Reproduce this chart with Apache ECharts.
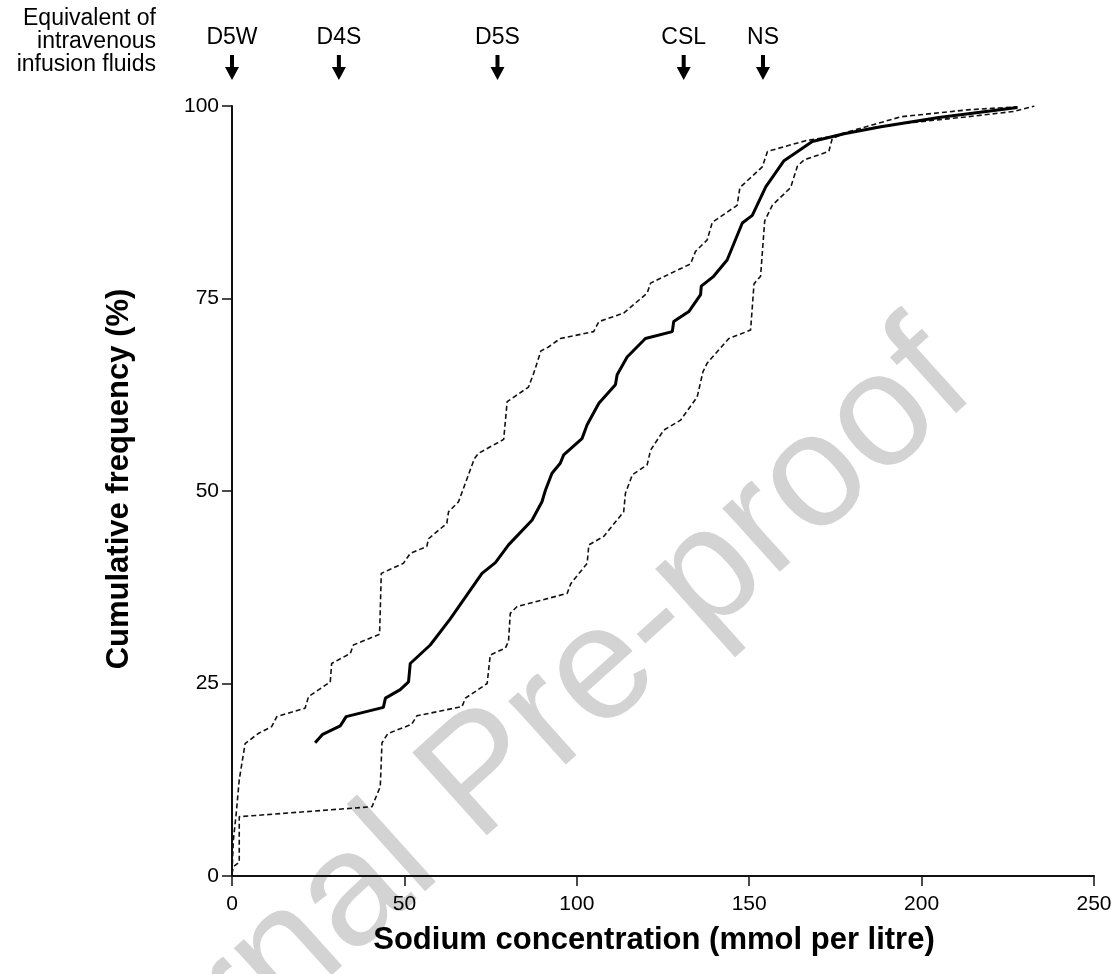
<!DOCTYPE html>
<html lang="en">
<head>
    <meta charset="utf-8">
    <title>Sodium concentration</title>
    <script src="https://cdn.jsdelivr.net/npm/echarts/dist/echarts.min.js"></script>
    <style>
        body { margin: 0; background: #fff; }
        #chart { width: 1116px; height: 974px; }
    </style>
</head>
<body>
    <div id="chart"></div>

    <script>
        // cumulative curves, [sodium mmol/L, cumulative %]
        const medianCurve = [
            [24.1, 17.3], [26.3, 18.4], [31.4, 19.5], [33.1, 20.7], [43.9, 21.9], [44.5, 23.1],
            [48.8, 24.2], [51.2, 25.2], [51.7, 27.6], [57.5, 30.0], [63.3, 33.4], [72.5, 39.3],
            [76.4, 40.7], [80.2, 43.0], [87.0, 46.2], [89.9, 48.6], [90.9, 50.1], [92.8, 52.3],
            [95.2, 53.6], [96.2, 54.7], [101.5, 56.8], [103.0, 58.6], [106.4, 61.4], [111.2, 63.8],
            [111.7, 65.1], [114.6, 67.4], [119.9, 69.8], [127.7, 70.7], [128.1, 72.0], [132.5, 73.3],
            [135.9, 75.5], [136.1, 76.6], [139.5, 77.8], [143.6, 80.0], [148.0, 84.8], [150.9, 85.8],
            [154.8, 89.5], [160.1, 92.9], [168.3, 95.4], [177.5, 96.4], [188.2, 97.3], [205.0, 98.5],
            [227.8, 99.8]
        ];

        const upperCurve = [
            [0, 0.5], [0.4, 4.7], [1.2, 8.0], [2.1, 12.5], [3.8, 17.2], [7.6, 18.5], [11.5, 19.4],
            [13.0, 20.7], [21.2, 21.8], [22.2, 23.3], [28.5, 25.2], [28.9, 27.6], [34.3, 28.9],
            [35.2, 30.0], [42.8, 31.4], [43.3, 39.3], [49.7, 40.6], [51.7, 41.9], [56.5, 42.8],
            [57.0, 43.8], [62.3, 45.8], [62.8, 47.3], [65.7, 48.6], [70.3, 54.2], [71.5, 54.9],
            [78.8, 56.7], [79.8, 61.6], [86.0, 63.5], [87.5, 65.3], [89.6, 68.2], [91.8, 68.7],
            [95.2, 69.8], [104.9, 70.7], [106.4, 72.0], [113.6, 73.1], [120.4, 75.7], [121.4, 77.0],
            [133.0, 79.5], [134.4, 81.1], [137.8, 82.6], [139.3, 84.9], [146.5, 87.1], [147.3, 89.4],
            [153.8, 92.1], [155.3, 94.1], [166.4, 95.5], [174.6, 96.1], [177.5, 96.5], [186.2, 97.6],
            [194.0, 98.6], [213.3, 99.5], [227.8, 99.9]
        ];

        const lowerCurve = [
            [0, 0.3], [0.4, 1.2], [2.1, 1.8], [2.1, 7.7], [40.6, 9.0], [43.0, 11.6], [43.5, 17.3],
            [45.2, 18.5], [52.1, 19.7], [53.6, 20.8], [66.7, 22.0], [67.7, 23.1], [74.0, 25.0],
            [74.9, 28.7], [79.3, 29.6], [80.2, 30.5], [80.7, 34.1], [82.7, 35.0], [97.2, 36.7],
            [98.3, 38.0], [103.0, 40.6], [103.5, 43.0], [107.8, 44.1], [113.6, 47.3], [114.1, 49.7],
            [116.1, 52.1], [120.4, 53.4], [121.4, 55.3], [125.2, 57.9], [130.1, 59.2], [134.9, 62.2],
            [136.6, 65.5], [137.8, 66.6], [144.1, 69.8], [150.4, 70.9], [151.4, 76.9], [153.3, 77.9],
            [154.5, 85.1], [156.7, 87.1], [162.0, 89.4], [164.0, 92.2], [165.9, 93.0], [173.1, 94.1],
            [174.1, 95.8], [177.5, 96.4], [186.2, 97.2], [194.0, 97.7], [213.3, 98.6], [226.9, 99.3],
            [232.7, 100.0]
        ];

        // sodium content of the reference infusion fluids
        const fluidNames = ['D5W', 'D4S', 'D5S', 'CSL', 'NS'];
        const fluidSodium = [0, 31, 77, 131, 154];

        const xTicks = { min: 0, max: 250, interval: 50 };
        const yTicks = { min: 0, max: 100, interval: 25 };

        const font = "'Liberation Sans', Arial, sans-serif";
        const arrowPath = 'path://M5,0 L9,0 L9,12 L14,12 L7,25 L0,12 L5,12 Z';

        const chart = echarts.init(document.getElementById('chart'));

        const option = {
            backgroundColor: '#fff',
            animation: false,
            textStyle: { fontFamily: font },
            graphic: [
                {
                    type: 'text',
                    z: -10,
                    silent: true,
                    x: 484,
                    y: 778,
                    rotation: 42 * Math.PI / 180,
                    style: {
                        text: 'Journal Pre-proof',
                        font: '162px ' + font,
                        fill: '#d3d3d3',
                        textAlign: 'center',
                        textVerticalAlign: 'middle'
                    }
                },
                {
                    type: 'text',
                    silent: true,
                    x: 156,
                    y: 7,
                    style: {
                        text: 'Equivalent of\nintravenous\ninfusion fluids',
                        font: '23px ' + font,
                        fill: '#000',
                        textAlign: 'right',
                        lineHeight: 23
                    }
                }
            ],
            grid: [
                { left: 232, right: 22, top: 106, bottom: 98 },
                { left: 232, right: 22, top: 55, height: 25 }
            ],
            xAxis: [
                {
                    type: 'value',
                    gridIndex: 0,
                    min: xTicks.min,
                    max: xTicks.max,
                    interval: xTicks.interval,
                    name: 'Sodium concentration (mmol per litre)',
                    nameLocation: 'middle',
                    nameGap: 49,
                    nameTextStyle: { fontSize: 31, fontWeight: 'bold', color: '#000', fontFamily: font, padding: [0, 18, 0, 0] },
                    axisLine: { show: true, onZero: false, lineStyle: { color: '#111', width: 2 } },
                    axisTick: { show: true, length: 10, lineStyle: { color: '#111', width: 1.5 } },
                    axisLabel: { margin: 18, fontSize: 21, color: '#000', fontFamily: font },
                    splitLine: { show: false }
                },
                {
                    type: 'value',
                    gridIndex: 1,
                    min: xTicks.min,
                    max: xTicks.max,
                    show: false
                }
            ],
            yAxis: [
                {
                    type: 'value',
                    gridIndex: 0,
                    min: yTicks.min,
                    max: yTicks.max,
                    interval: yTicks.interval,
                    name: 'Cumulative frequency (%)',
                    nameLocation: 'middle',
                    nameGap: 97,
                    nameRotate: 90,
                    nameTextStyle: { fontSize: 31, fontWeight: 'bold', color: '#000', fontFamily: font, padding: [0, 0, 0, 24] },
                    axisLine: { show: true, onZero: false, lineStyle: { color: '#111', width: 2 } },
                    axisTick: { show: true, length: 10, lineStyle: { color: '#111', width: 1.5 } },
                    axisLabel: { margin: 13, fontSize: 21, color: '#000', fontFamily: font },
                    splitLine: { show: false }
                },
                {
                    type: 'value',
                    gridIndex: 1,
                    min: 0,
                    max: 1,
                    show: false
                }
            ],
            series: [
                {
                    type: 'line',
                    xAxisIndex: 0,
                    yAxisIndex: 0,
                    data: upperCurve,
                    symbol: 'none',
                    silent: true,
                    lineStyle: { color: '#111', width: 1.6, type: [5, 3] }
                },
                {
                    type: 'line',
                    xAxisIndex: 0,
                    yAxisIndex: 0,
                    data: lowerCurve,
                    symbol: 'none',
                    silent: true,
                    lineStyle: { color: '#111', width: 1.6, type: [5, 3] }
                },
                {
                    type: 'line',
                    xAxisIndex: 0,
                    yAxisIndex: 0,
                    data: medianCurve,
                    symbol: 'none',
                    silent: true,
                    lineStyle: { color: '#000', width: 3 }
                },
                {
                    type: 'scatter',
                    xAxisIndex: 1,
                    yAxisIndex: 1,
                    silent: true,
                    symbol: arrowPath,
                    symbolSize: [14, 25],
                    itemStyle: { color: '#000', opacity: 1 },
                    label: {
                        show: true,
                        position: 'top',
                        distance: 6,
                        fontSize: 23,
                        color: '#000',
                        textBorderWidth: 0,
                        fontFamily: font,
                        formatter: p => p.name
                    },
                    data: fluidNames.map((n, i) => ({ name: n, value: [fluidSodium[i], 0.5] }))
                }
            ]
        };

        chart.setOption(option);
    </script>
</body>
</html>
